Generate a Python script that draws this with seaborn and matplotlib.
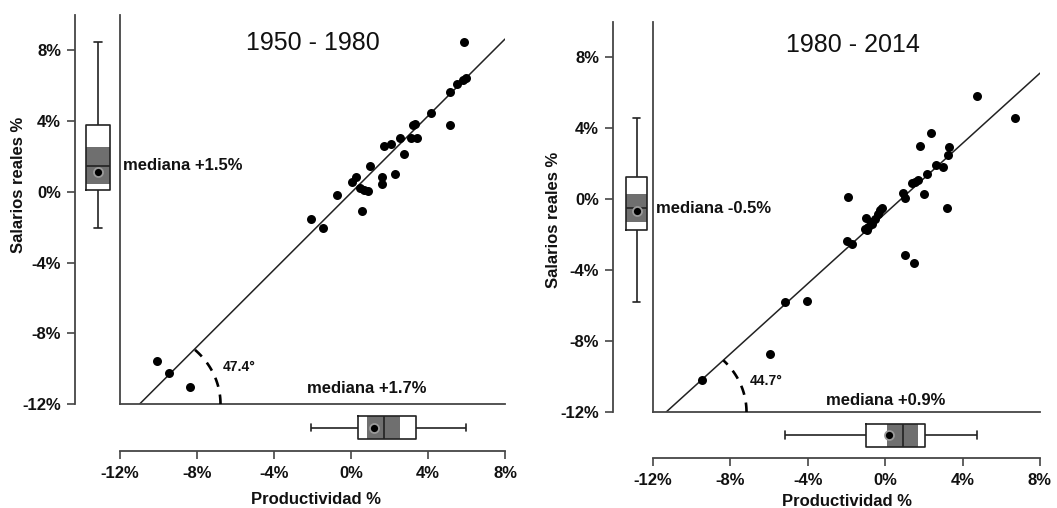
import numpy as np
import matplotlib
matplotlib.use("Agg")
import matplotlib.pyplot as plt
from matplotlib import cbook
from matplotlib.patches import Rectangle
from matplotlib.ticker import FuncFormatter
import seaborn as sns

# Annual changes (%) of labour productivity and real wages
prod_1950 = [5.85, 5.95, 5.8, 5.5, 5.15, 4.15, 5.15, 3.35, 3.2, 3.45, 3.1, 2.55,
             2.1, 1.7, 2.75, 1.0, 2.3, 0.28, 0.05, 1.6, 1.6, 0.45, 0.7, 0.88,
             -0.75, 0.55, -2.07, -1.45, -10.1, -9.48, -8.35]
sal_1950 = [8.47, 6.42, 6.35, 6.12, 5.67, 4.48, 3.79, 3.86, 3.79, 3.07, 3.03, 3.07,
            2.69, 2.60, 2.16, 1.47, 1.00, 0.81, 0.58, 0.81, 0.47, 0.24, 0.10, 0.06,
            -0.19, -1.11, -1.54, -2.05, -9.57, -10.24, -11.03]

prod_1980 = [-9.45, -5.95, -5.16, -4.05, 1.5, 1.0, -1.7, -2.0, -0.95, -1.05, -0.88, -0.68,
             -0.75, -0.55, -1.0, -0.35, -0.25, -0.15, 3.2, 1.0, -1.93, 2.0, 0.9, 1.4,
             1.55, 1.72, 2.15, 3.0, 2.6, 3.27, 3.28, 1.78, 2.36, 6.72, 4.77]
sal_1980 = [-10.22, -8.73, -5.80, -5.72, -3.58, -3.12, -2.51, -2.36, -1.75, -1.68, -1.55, -1.42,
            -1.28, -1.12, -1.05, -0.83, -0.62, -0.50, -0.47, 0.07, 0.12, 0.32, 0.37, 0.89,
            0.98, 1.10, 1.40, 1.81, 1.96, 2.51, 2.96, 3.01, 3.72, 4.61, 5.80]

periods = ["1950 - 1980", "1980 - 2014"]
angles_deg = [47.4, 44.7]          # angle of the fitted line
intercepts = [-0.06, -0.8]
median_txt_y = ["mediana +1.5%", "mediana -0.5%"]
median_txt_x = ["mediana +1.7%", "mediana +0.9%"]
tick_vals = [-12, -8, -4, 0, 4, 8]
x_label = "Productividad %"
y_label = "Salarios reales %"

sns.set_style("white")
plt.rcParams["font.family"] = ["Liberation Sans", "DejaVu Sans"]
plt.rcParams.update({"text.color": "#111111", "xtick.labelcolor": "#111111",
                     "ytick.labelcolor": "#111111"})

W, H = 1057, 508
fig = plt.figure(figsize=(W / 100, H / 100), dpi=100)

XLIM = (-12, 8)
YLIM = (-12, 10)


def rect(x0, y0, x1, y1):
    return [x0 / W, 1 - y1 / H, (x1 - x0) / W, (y1 - y0) / H]


layout = [
    dict(main=(120, 15, 505, 404), ybox=(75, 15, 120, 404), xbox=(120, 404, 505, 451),
         ybox_xlim=(-0.48, 0.46), title_xy=(-1.97, 8.43), medx_xy=(0.8, -11.1),
         ang_xy=(-6.65, -9.92), xlab=(316, 500), ylab=(19, 185), arc_r=4.2),
    dict(main=(653, 22, 1040, 412), ybox=(613, 22, 653, 412), xbox=(653, 412, 1040, 458),
         ybox_xlim=(-0.55, 0.38), title_xy=(-1.67, 8.72), medx_xy=(0.0, -11.37),
         ang_xy=(-7.0, -10.25), xlab=(847, 502), ylab=(554, 220), arc_r=4.15),
]
datasets = [(prod_1950, sal_1950), (prod_1980, sal_1980)]

spine_col = "#454545"
line_col = "#222222"
ci_col = "#6f6f6f"
pct = FuncFormatter(lambda v, p: f"{v:.0f}%")
tick_font = dict(fontsize=12, fontweight="bold")


def draw_box(ax, values, orient):
    box_w = 0.5
    kw = dict(ax=ax, fill=False, color=line_col, linewidth=1.2, width=box_w,
              showfliers=False, showmeans=True, capwidths=0.16,
              meanprops=dict(marker="o", markerfacecolor="black",
                             markeredgecolor="#9a9a9a", markeredgewidth=1.3,
                             markersize=6.5))
    if orient == "v":
        sns.boxplot(y=values, **kw)
    else:
        sns.boxplot(x=values, **kw)
    st = cbook.boxplot_stats(np.asarray(values))[0]
    lo, hi = st["cilo"], st["cihi"]
    if orient == "v":
        patch = Rectangle((-box_w / 2, lo), box_w, hi - lo)
    else:
        patch = Rectangle((lo, -box_w / 2), hi - lo, box_w)
    patch.set(facecolor=ci_col, edgecolor="none", zorder=1.5)
    ax.add_patch(patch)


for i, (lay, (px, sy)) in enumerate(zip(layout, datasets)):
    ax = fig.add_axes(rect(*lay["main"]))
    axy = fig.add_axes(rect(*lay["ybox"]))
    axx = fig.add_axes(rect(*lay["xbox"]))

    # scatter of the yearly observations
    sns.scatterplot(x=px, y=sy, ax=ax, color="black", s=42, linewidth=0, zorder=3)
    ax.set_xlim(*XLIM)
    ax.set_ylim(*YLIM)

    # fitted line and its angle with the horizontal axis
    slope = np.tan(np.radians(angles_deg[i]))
    ax.axline((0, intercepts[i]), slope=slope, color=line_col, lw=1.1, zorder=2)
    x0 = (-12 - intercepts[i]) / slope
    t = np.linspace(0, np.arctan(slope), 60)
    r = lay["arc_r"]
    ax.plot(x0 + r * np.cos(t), -12 + r * np.sin(t), color="black", lw=1.9,
            ls=(0, (3.6, 3.0)), clip_on=False, zorder=3)
    ax.text(*lay["ang_xy"], f"{angles_deg[i]}°", fontsize=10, fontweight="bold",
            ha="left", va="center")

    ax.text(*lay["title_xy"], periods[i], fontsize=18, ha="center", va="center")
    ax.text(-11.85, np.median(sy), median_txt_y[i], fontsize=12, fontweight="bold",
            ha="left", va="center")
    ax.text(*lay["medx_xy"], median_txt_x[i], fontsize=12, fontweight="bold",
            ha="center", va="center")

    ax.set_xticks([])
    ax.set_yticks([])
    ax.set_xlabel("")
    ax.set_ylabel("")
    for side in ("top", "right"):
        ax.spines[side].set_visible(False)
    for side in ("left", "bottom"):
        ax.spines[side].set_color(spine_col)
        ax.spines[side].set_linewidth(1.3)

    # marginal box plot of real wages
    draw_box(axy, sy, "v")
    axy.set_ylim(*YLIM)
    axy.set_xlim(*lay["ybox_xlim"])
    axy.set_xticks([])
    axy.set_yticks(tick_vals)
    axy.yaxis.set_major_formatter(pct)
    axy.tick_params(axis="y", left=True, direction="out", length=6, width=1.2,
                    color=spine_col, pad=4)
    for lab in axy.get_yticklabels():
        lab.set(**tick_font)
    axy.set_xlabel("")
    axy.set_ylabel("")
    for side in ("top", "right", "bottom"):
        axy.spines[side].set_visible(False)
    axy.spines["left"].set_color(spine_col)
    axy.spines["left"].set_linewidth(1.3)
    axy.patch.set_alpha(0)

    # marginal box plot of productivity
    draw_box(axx, px, "h")
    axx.set_xlim(*XLIM)
    axx.set_ylim(0.5, -0.5)
    axx.set_yticks([])
    axx.set_xticks(tick_vals)
    axx.xaxis.set_major_formatter(pct)
    axx.tick_params(axis="x", bottom=True, direction="out", length=6, width=1.2,
                    color=spine_col, pad=5)
    for lab in axx.get_xticklabels():
        lab.set(**tick_font)
    axx.set_xlabel("")
    axx.set_ylabel("")
    for side in ("top", "right", "left"):
        axx.spines[side].set_visible(False)
    axx.spines["bottom"].set_color(spine_col)
    axx.spines["bottom"].set_linewidth(1.3)
    axx.patch.set_alpha(0)

    fig.text(lay["xlab"][0] / W, 1 - lay["xlab"][1] / H, x_label, fontsize=12,
             fontweight="bold", ha="center", va="center")
    fig.text(lay["ylab"][0] / W, 1 - lay["ylab"][1] / H, y_label, fontsize=12,
             fontweight="bold", ha="center", va="center", rotation=90)

fig.savefig("out.png", dpi=100)
